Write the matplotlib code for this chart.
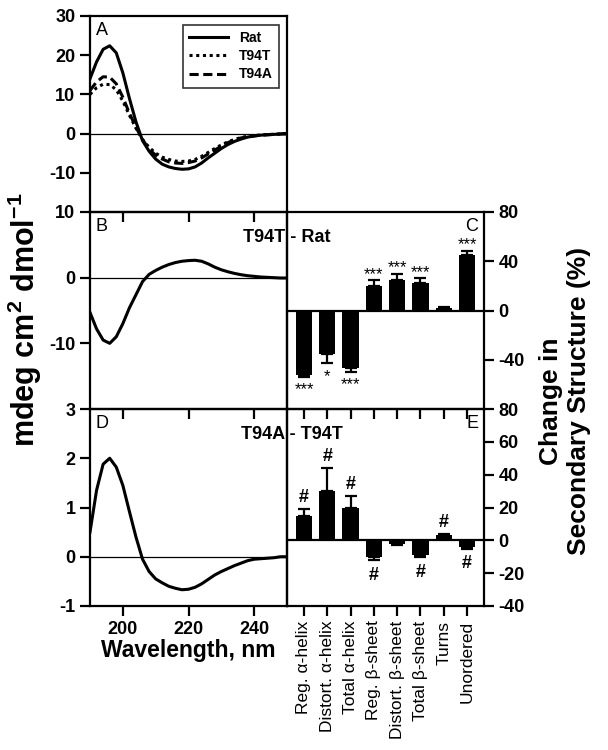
import matplotlib.pyplot as plt
import numpy as np

plt.rcParams['font.family'] = ['Liberation Sans', 'DejaVu Sans']
plt.rcParams['font.weight'] = 'bold'
plt.rcParams['axes.labelweight'] = 'bold'
plt.rcParams['axes.unicode_minus'] = False
plt.rcParams['mathtext.fontset'] = 'custom'
plt.rcParams['mathtext.rm'] = 'Liberation Sans'
plt.rcParams['mathtext.bf'] = 'Liberation Sans:bold'
plt.rcParams['mathtext.default'] = 'bf'

# CD spectra (mdeg cm2 dmol-1), read every 2 nm
wavelength = np.arange(190, 251, 2)
rat = [14, 18.3, 21.5, 22.4, 20.6, 15.5, 9, 3, -1.8, -4.5, -6.5, -7.8, -8.5, -8.9, -9.1, -9.0,
       -8.5, -7.5, -6.2, -5.0, -3.8, -2.8, -2.0, -1.4, -0.9, -0.6, -0.4, -0.3, -0.2, -0.1, 0]
t94t = [10, 11.7, 12.6, 12.5, 11.2, 8.3, 4.7, 1.4, -1.5, -3.5, -5, -6, -6.6, -7, -7.1, -7,
        -6.6, -5.8, -4.8, -3.8, -2.9, -2.1, -1.5, -1.0, -0.7, -0.5, -0.35, -0.25, -0.15, -0.1, 0]
t94a = [11, 13.2, 14.5, 14.4, 12.7, 9.3, 5.2, 1.6, -1.5, -4, -5.5, -6.5, -7.2, -7.5, -7.6, -7.4,
        -7, -6.2, -5.2, -4.2, -3.2, -2.3, -1.6, -1.1, -0.8, -0.6, -0.4, -0.3, -0.2, -0.1, 0]
diff_t94t_rat = [-5.3, -7.8, -9.5, -10, -9.0, -7.0, -4.6, -2.6, -0.6, 0.5, 1.1, 1.6, 2.0, 2.3,
                 2.5, 2.6, 2.65, 2.5, 2.1, 1.6, 1.2, 0.9, 0.65, 0.45, 0.3, 0.2, 0.1, 0.05, 0,
                 -0.05, -0.05]
diff_t94a_t94t = [0.5, 1.35, 1.88, 2.0, 1.82, 1.45, 0.92, 0.4, -0.05, -0.3, -0.45, -0.53, -0.6,
                  -0.64, -0.67, -0.66, -0.62, -0.55, -0.46, -0.37, -0.3, -0.24, -0.18, -0.13,
                  -0.08, -0.05, -0.04, -0.03, -0.02, 0.0, 0.0]

# secondary structure changes (%)
structures = ['Reg. α-helix', 'Distort. α-helix', 'Total α-helix', 'Reg. β-sheet',
              'Distort. β-sheet', 'Total β-sheet', 'Turns', 'Unordered']
change_c = [-52, -35, -47, 20, 25, 22, 2, 45]
err_c = [2, 8, 3, 4.5, 5, 4, 1, 3.5]
sig_c = ['***', '*', '***', '***', '***', '***', '', '***']
change_e = [15, 30, 20, -10, -2, -9, 3, -4]
err_e = [4, 14, 7, 2, 1, 1, 1, 1]
sig_e = ['#', '#', '#', '#', '', '#', '#', '#']

W, H = 608, 750
fig = plt.figure(figsize=(W / 100, H / 100), dpi=100)


def box(l, t, r, b):
    return [l / W, 1 - b / H, (r - l) / W, (b - t) / H]


axA = fig.add_axes(box(90, 16, 287, 212))
axB = fig.add_axes(box(90, 212, 287, 409))
axD = fig.add_axes(box(90, 409, 287, 606))
axC = fig.add_axes(box(287, 212, 484, 409))
axE = fig.add_axes(box(287, 409, 484, 606))

for ax in [axA, axB, axD, axC, axE]:
    ax.set_facecolor('none')
    for s in ax.spines.values():
        s.set_linewidth(1.6)
    ax.tick_params(width=1.6, length=7, labelsize=13, direction='out')

# spectra panels
axA.plot(wavelength, rat, 'k-', lw=2.2, label='Rat')
axA.plot(wavelength, t94t, 'k', ls=(0, (1, 1.2)), lw=2.2, label='T94T')
axA.plot(wavelength, t94a, 'k', ls=(0, (3, 1.5)), lw=2.2, label='T94A')
axB.plot(wavelength, diff_t94t_rat, 'k-', lw=2.2)
axD.plot(wavelength, diff_t94a_t94t, 'k-', lw=2.2)

for ax, lim, ticks in [(axA, (-20, 30), [-10, 0, 10, 20, 30]),
                       (axB, (-20, 10), [-10, 0, 10]),
                       (axD, (-1, 3), [-1, 0, 1, 2, 3])]:
    ax.axhline(0, color='k', lw=0.9)
    ax.set_xlim(190, 250)
    ax.set_ylim(*lim)
    ax.set_yticks(ticks)
    ax.set_xticks([200, 220, 240])
for ax in [axA, axB]:
    ax.tick_params(axis='x', labelbottom=False)

leg = axA.legend(loc='upper right', fontsize=10, handlelength=2.8, fancybox=False,
                 edgecolor='k', borderpad=0.45, labelspacing=0.3,
                 bbox_to_anchor=(0.995, 0.99))
leg.get_frame().set_linewidth(1.2)
axD.set_xlabel('Wavelength, nm', fontsize=16.5, labelpad=1)

# bar panels
x = np.arange(len(structures))
for ax, vals, errs, sig, lim, ticks in [
        (axC, change_c, err_c, sig_c, (-80, 80), [-40, 0, 40, 80]),
        (axE, change_e, err_e, sig_e, (-40, 80), [-40, -20, 0, 20, 40, 60, 80])]:
    yerr = [[e if v < 0 else 0 for v, e in zip(vals, errs)],
            [e if v >= 0 else 0 for v, e in zip(vals, errs)]]
    ax.bar(x, vals, width=0.7, color='k')
    ax.errorbar(x, vals, yerr=yerr, fmt='none', ecolor='k', elinewidth=1.6,
                capsize=4, capthick=1.6)
    ax.axhline(0, color='k', lw=1.6)
    ax.set_xlim(-0.73, 7.73)
    ax.set_ylim(*lim)
    ax.set_yticks(ticks)
    ax.yaxis.tick_right()
    ax.set_xticks(x)
    for i, (v, e, s) in enumerate(zip(vals, errs, sig)):
        if not s:
            continue
        star = '*' in s
        fs = 12 if star else 13
        wt = 'normal' if star else 'bold'
        if v >= 0:
            ax.annotate(s, (i, v + e), xytext=(0, -1 if star else 2),
                        textcoords='offset points', ha='center', va='bottom',
                        fontsize=fs, fontweight=wt)
        else:
            ax.annotate(s, (i, v - e), xytext=(0, -4 if star else -5),
                        textcoords='offset points', ha='center', va='top',
                        fontsize=fs, fontweight=wt)
axC.tick_params(axis='x', labelbottom=False)
axE.set_xticklabels(structures, rotation=90, fontsize=12.5, fontweight='normal')

for ax in [axA, axB, axD, axC, axE]:
    for lab in ax.get_yticklabels():
        lab.set_fontweight('bold')
for lab in axD.get_xticklabels():
    lab.set_fontweight('bold')

# panel letters and titles
for ax, letter in [(axA, 'A'), (axB, 'B'), (axD, 'D')]:
    ax.text(0.03, 0.97, letter, transform=ax.transAxes, ha='left', va='top', fontsize=13,
            fontweight='normal')
for ax, letter in [(axC, 'C'), (axE, 'E')]:
    ax.text(0.97, 0.97, letter, transform=ax.transAxes, ha='right', va='top', fontsize=13,
            fontweight='normal')
fig.text(287 / W, 1 - 237 / H, 'T94T - Rat', ha='center', va='center', fontsize=13)
fig.text(292 / W, 1 - 435 / H, 'T94A - T94T', ha='center', va='center', fontsize=13)

fig.text(25 / W, 1 - 320 / H, 'mdeg cm$^2$ dmol$^{-1}$', rotation=90, ha='center',
         va='center', fontsize=22)
fig.text(565 / W, 1 - 401 / H, 'Change in\nSecondary Structure (%)', rotation=90,
         ha='center', va='center', fontsize=19, linespacing=1.2)

fig.savefig('out.png', dpi=100)
